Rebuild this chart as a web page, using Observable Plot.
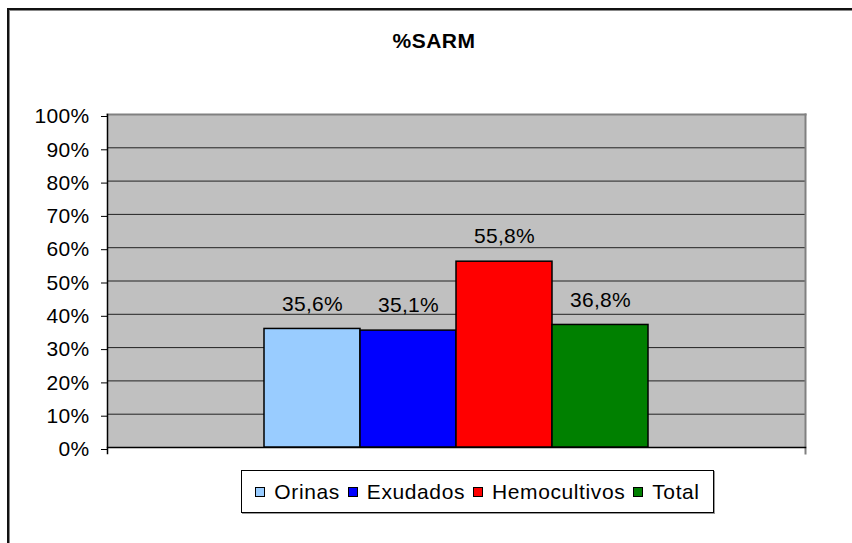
<!DOCTYPE html>
<html>
<head>
<meta charset="utf-8">
<script src="https://cdn.jsdelivr.net/npm/d3@7"></script>
<script src="https://cdn.jsdelivr.net/npm/@observablehq/plot@0.6"></script>
<style>
  html, body { margin: 0; padding: 0; background: #fff; }
  #wrap { position: relative; width: 852px; height: 543px; overflow: hidden; font-family: "Liberation Sans", Arial, sans-serif; }
  #border { position: absolute; left: 7px; top: 8px; width: 900px; height: 600px; border-left: 2px solid #111; border-top: 2px solid #111; box-shadow: inset 1px 1px 0 #888; }
  #title { position: absolute; left: 334px; width: 200px; top: 29px; text-align: center; font-weight: bold; font-size: 21px; color: #000; letter-spacing: 0.5px; }
  #chart { position: absolute; left: 0; top: 0; }
  #chart text { letter-spacing: 0.3px; }
  #legend { position: absolute; left: 241px; top: 470px; width: 471px; height: 41px; border: 1px solid #000; box-shadow: 1px 1px 0 #999; display: flex; align-items: center; justify-content: center; font-size: 21px; letter-spacing: 0.6px; color: #000; background: #fff; }
  .item { display: flex; align-items: center; margin: 0 8px 0 0; }
  .item:last-child { margin-right: 0; }
  .sw { width: 8px; height: 8px; border: 1.5px solid #000; margin-right: 9px; }
</style>
</head>
<body>
<div id="wrap">
  <div id="border"></div>
  <div id="title"></div>
  <div id="chart"></div>
  <div id="legend"></div>
</div>
<script>
const title = "%SARM";
const series = ["Orinas", "Exudados", "Hemocultivos", "Total"];
const values = [35.6, 35.1, 55.8, 36.8];
const colors = ["#99CCFF", "#0000FF", "#FF0000", "#008000"];
const yTicks = [0, 10, 20, 30, 40, 50, 60, 70, 80, 90, 100];

const data = series.map((s, i) => ({serie: s, value: values[i]}));
const fmt = v => v.toFixed(1).replace(".", ",") + "%";

document.getElementById("title").textContent = title;

const plot = Plot.plot({
  width: 852,
  height: 470,
  marginLeft: 107,
  marginRight: 47,
  marginTop: 114,
  marginBottom: 23,
  style: {fontFamily: "'Liberation Sans', Arial, sans-serif", fontSize: "21px", color: "#000", background: "transparent", overflow: "visible"},
  x: {domain: series, range: [262, 649], padding: 0, axis: null},
  y: {domain: [0, 100], axis: null},
  color: {domain: series, range: colors},
  marks: [
    Plot.frame({fill: "#C0C0C0", stroke: null}),
    Plot.gridY(yTicks.slice(1, -1), {stroke: "#222", strokeOpacity: 1, strokeWidth: 1}),
    Plot.frame({anchor: "top", stroke: "#808080", strokeWidth: 2}),
    Plot.frame({anchor: "right", stroke: "#808080", strokeWidth: 2, insetBottom: -6}),
    Plot.frame({anchor: "left", stroke: "#000", strokeWidth: 1.5, insetBottom: -6}),
    Plot.frame({anchor: "bottom", stroke: "#000", strokeWidth: 1.5}),
    Plot.axisY({ticks: yTicks, tickSize: 6, tickPadding: 12, tickFormat: d => d + "%", fontSize: 21, stroke: "#000", dy: 2, label: null}),
    Plot.barY(data, {x: "serie", y: "value", fill: "serie", stroke: "#000", strokeWidth: 1.5}),
    Plot.text(data, {x: "serie", y: "value", text: d => fmt(d.value), dy: -25, fontSize: 21, fill: "#000"})
  ]
});
document.getElementById("chart").appendChild(plot);

const legend = document.getElementById("legend");
series.forEach((s, i) => {
  const item = document.createElement("div");
  item.className = "item";
  const sw = document.createElement("span");
  sw.className = "sw";
  sw.style.background = colors[i];
  const t = document.createElement("span");
  t.textContent = s;
  item.appendChild(sw);
  item.appendChild(t);
  legend.appendChild(item);
});
</script>
</body>
</html>
